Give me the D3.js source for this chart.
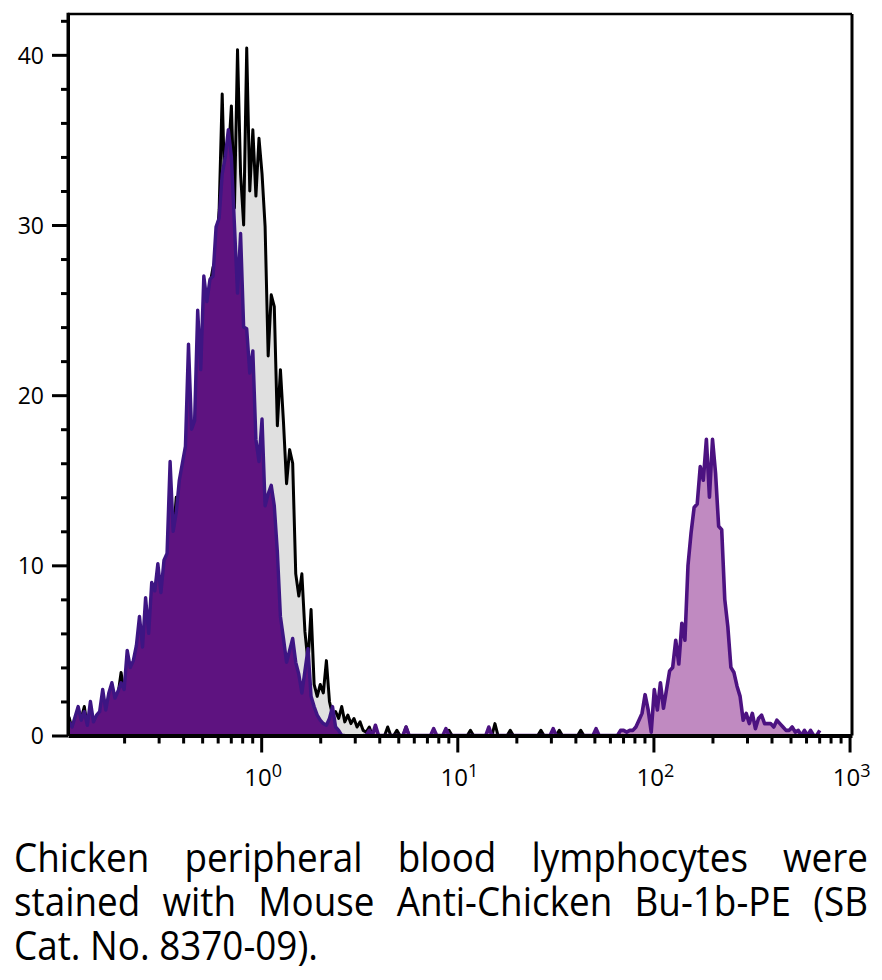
<!DOCTYPE html>
<html>
<head>
<meta charset="utf-8">
<script src="https://cdn.jsdelivr.net/npm/d3@7"></script>
<style>
html,body{margin:0;padding:0;background:#fff;}
#wrap{position:relative;width:882px;height:980px;overflow:hidden;}
#wrap svg{position:absolute;left:0;top:0;}
</style>
</head>
<body>
<div id="wrap"></div>
<script>
// ---------------- data ----------------
const binsPerDecade = 64;          // histogram channels per decade (log scale)
const binStartLog = -0.98;         // log10 of first channel

// isotype control (gray fill, black outline), starting at channel 0
const controlCounts = [
  1.1,0.4,0.8,0.6,1.0,1.7,0.5,1.2,0.7,1.0,
  1.1,1.8,1.2,2.0,2.4,1.8,2.4,3.7,2.5,3.8,
  3.6,4.0,4.8,5.5,5.0,6.8,5.8,8.0,7.6,9.0,
  8.0,9.5,10.0,12.5,11.6,14.0,13.5,14.5,16.0,18.0,
  17.0,18.0,21.0,20.5,24.0,25.0,26.5,27.5,28.0,30.9,
  37.7,30.9,34.0,37.0,31.0,40.3,33.0,30.0,40.4,32.0,
  35.6,31.7,35.1,33.0,29.9,22.3,25.9,25.2,18.2,21.5,
  18.4,14.8,16.8,16.0,9.5,8.2,9.5,6.1,4.3,7.4,
  3.0,2.3,3.0,2.5,4.4,2.0,1.2,1.4,1.0,1.7,
  0.8,1.2,0.7,1.0,0.5,0.8,0.3,0.2,0.5,0,
  0.3,0,0,0,0.5,0,0,0.3,0,0,
  0.5,0,0,0,0,0,0,0,0,0,
  0,0,0,0,0.3,0,0,0,0,0,
  0,0.3,0,0,0,0,0,0,0,0.7,
  0,0,0,0,0.3,0,0,0,0,0,
  0,0,0,0,0.3,0,0,0,0,0,
  0.3,0,0,0,0,0,0,0.3,0,0,
  0
];

// Bu-1b stained, negative population (dark purple fill), starting at channel 0
const negativeCounts = [
  0.8,0.5,1.1,1.7,0.9,1.4,0.6,2.0,0.8,1.2,
  1.4,2.7,1.5,2.5,3.1,2.2,2.6,3.1,2.7,5.0,
  4.0,4.4,5.3,7.0,5.2,8.1,6.0,9.0,8.5,10.1,
  8.4,10.3,10.7,16.1,12.0,13.1,15.0,16.0,17.0,23.0,
  18.0,18.5,25.0,21.5,27.0,25.5,26.8,27.0,29.9,30.4,
  33.0,34.0,35.6,34.0,30.0,26.0,29.5,24.0,23.9,21.3,
  22.6,17.4,16.1,18.6,13.5,14.2,14.7,13.5,10.8,7.0,
  5.7,4.3,5.0,5.7,4.3,3.6,2.5,3.8,5.1,2.3,
  1.7,1.2,0.9,0.7,0.6,1.0,1.7,0.5,0.3,0,
  0
];

// Bu-1b stained, positive population (light purple fill)
const positiveStartBin = 96;
const positiveCounts = [
  0,0,0.3,0,0.6,0,0,0,0,0,
  0,0,0,0,0.5,0,0,0,0,0,
  0,0,0,0.4,0,0,0,0.4,0,0,
  0,0,0,0,0,0,0,0,0,0,
  0,0.5,0,0,0,0,0,0,0,0,
  0,0,0,0,0,0,0,0,0,0,
  0,0,0.4,0,0,0,0,0,0,0,
  0,0,0,0,0,0,0.4,0,0,0,
  0,0,0,0,0.3,0.3,0.2,0.3,0.3,0.5,
  0.9,1.3,2.4,1.5,0.2,2.7,1.5,3.1,1.6,2.7,
  3.8,4.0,5.6,4.2,6.6,5.6,10.0,11.9,13.4,13.6,
  15.8,15.0,17.4,14.0,17.4,15.4,12.3,12.1,8.0,6.4,
  4.0,3.7,2.9,2.3,0.9,1.3,0.7,1.3,0.4,1.0,
  1.2,0.7,0.7,0.7,0.5,0.9,0.7,0.5,0.3,0.3,
  0.5,0.2,0.3,0,0.3,0,0.3,0,0,0.3
];

const yMajorTicks = [0,10,20,30,40];
const yMinorTicks = [2,4,6,8,12,14,16,18,22,24,26,28,32,34,36,38,42];
const xMajorTicks = [1,10,100,1000];
const xMajorBase = ["10","10","10","10"];
const xMajorExp = ["0","1","2","3"];
const xMinorTicks = [0.2,0.3,0.4,0.5,0.6,0.7,0.8,0.9,
                     2,3,4,5,6,7,8,9,
                     20,30,40,50,60,70,80,90,
                     200,300,400,500,600,700,800,900];
const captionLines = [
  "Chicken peripheral blood lymphocytes were",
  "stained with Mouse Anti-Chicken Bu-1b-PE (SB",
  "Cat. No. 8370-09)."
];

// ---------------- chart ----------------
const W = 882, H = 980;
const plot = {left:68, right:852, top:14, bottom:735.5};
const tickFont = "'Open Sans','Noto Sans',sans-serif";

const x = d3.scaleLog()
  .domain([Math.pow(10,-0.985), Math.pow(10,3.0125)])
  .range([plot.left, plot.right]);
const y = d3.scaleLinear().domain([0,42.4]).range([plot.bottom, plot.top]);

const chan = i => Math.pow(10, binStartLog + i / binsPerDecade);
const toSeries = (arr, start) => arr.map((v,k) => ({c: chan(start + k), v}));

const control = toSeries(controlCounts, 0);
const negative = toSeries(negativeCounts, 0);
const positive = toSeries(positiveCounts, positiveStartBin);

const svg = d3.select("#wrap").append("svg").attr("width", W).attr("height", H);

svg.append("defs").append("clipPath").attr("id","plotclip")
  .append("rect")
  .attr("x", plot.left).attr("y", plot.top)
  .attr("width", plot.right - plot.left).attr("height", plot.bottom - plot.top);

const area = d3.area().x(d => x(d.c)).y0(y(0)).y1(d => y(d.v));
const line = d3.line().x(d => x(d.c)).y(d => y(d.v));

const g = svg.append("g").attr("clip-path","url(#plotclip)");

function drawHist(data, fill, stroke, sw){
  g.append("path").datum(data).attr("d", area).attr("fill", fill).attr("stroke","none");
  g.append("path").datum(data).attr("d", line).attr("fill","none")
    .attr("stroke", stroke).attr("stroke-width", sw).attr("stroke-linejoin","round");
}
drawHist(control, "#e0e0e0", "#000000", 3);
drawHist(negative, "#5e1380", "#3d1583", 3.4);
drawHist(positive, "#c08ac1", "#4c1281", 3.6);

// ---------------- axes ----------------
const yAx = svg.append("g").attr("transform", `translate(${plot.left},0)`)
  .call(d3.axisLeft(y).tickValues(yMajorTicks).tickSize(16).tickSizeOuter(0)
        .tickPadding(8).tickFormat(d3.format("d")));
yAx.select(".domain").attr("stroke","#000").attr("stroke-width",3);
yAx.selectAll(".tick line").attr("stroke","#000").attr("stroke-width",3);
yAx.selectAll(".tick text").attr("font-family", tickFont).attr("font-size", 23).attr("fill","#000").attr("dy","0.36em");

const yMin = svg.append("g").attr("transform", `translate(${plot.left},0)`)
  .call(d3.axisLeft(y).tickValues(yMinorTicks).tickSize(7).tickSizeOuter(0).tickFormat(""));
yMin.select(".domain").remove();
yMin.selectAll(".tick line").attr("stroke","#000").attr("stroke-width",3);

const xAx = svg.append("g").attr("transform", `translate(0,${plot.bottom})`)
  .call(d3.axisBottom(x).tickValues(xMajorTicks).tickSize(17).tickSizeOuter(0).tickFormat(""));
xAx.select(".domain").attr("stroke","#000").attr("stroke-width",4);
xAx.selectAll(".tick line").attr("stroke","#000").attr("stroke-width",3);
xAx.selectAll(".tick text").remove();

const xMin = svg.append("g").attr("transform", `translate(0,${plot.bottom})`)
  .call(d3.axisBottom(x).tickValues(xMinorTicks).tickSize(8).tickSizeOuter(0).tickFormat(""));
xMin.select(".domain").remove();
xMin.selectAll(".tick line").attr("stroke","#000").attr("stroke-width",3);

const xl = svg.append("g").selectAll("text").data(xMajorTicks).join("text")
  .attr("x", d => x(d) + 2).attr("y", plot.bottom + 50)
  .attr("text-anchor","middle")
  .attr("font-family", tickFont).attr("font-size", 24).attr("fill","#000");
xl.append("tspan").text((d,i) => xMajorBase[i]);
xl.append("tspan").attr("font-size", 18).attr("dy", -9).text((d,i) => xMajorExp[i]);

// frame: top and right
const xr = x.range(), yr = y.range();
svg.append("line").attr("x1", xr[0]).attr("x2", xr[1]).attr("y1", yr[1]).attr("y2", yr[1])
  .attr("stroke","#000").attr("stroke-width",2.6);
svg.append("line").attr("x1", xr[1]).attr("x2", xr[1]).attr("y1", yr[1]).attr("y2", yr[0])
  .attr("stroke","#000").attr("stroke-width",3);
svg.append("line").attr("x1", xr[0]).attr("x2", xr[0]).attr("y1", yr[1]-1.3).attr("y2", yr[0])
  .attr("stroke","#000").attr("stroke-width",3);

// ---------------- caption (justified via word-spacing) ----------------
const capFont = "'Open Sans','Noto Sans',sans-serif";
const capSize = 41;
const capLeft = 14, capRight = 868;
const capBase = [872, 916, 960];
const capLastWidth = 304;
const capG = svg.append("g").attr("font-family", capFont).attr("font-size", capSize).attr("fill","#000");
const probe = capG.append("text").text(captionLines[2]);
const sx = capLastWidth / probe.node().getComputedTextLength();
probe.remove();
captionLines.forEach((ln, i) => {
  const t = capG.append("text")
    .attr("transform", `translate(${capLeft},${capBase[i]}) scale(${sx},1)`)
    .text(ln);
  if (i < captionLines.length - 1) {
    const natural = t.node().getComputedTextLength();
    const nSpaces = ln.split(" ").length - 1;
    const avail = (capRight - capLeft) / sx;
    t.attr("word-spacing", ((avail - natural) / nSpaces).toFixed(2));
  }
});
</script>
</body>
</html>
